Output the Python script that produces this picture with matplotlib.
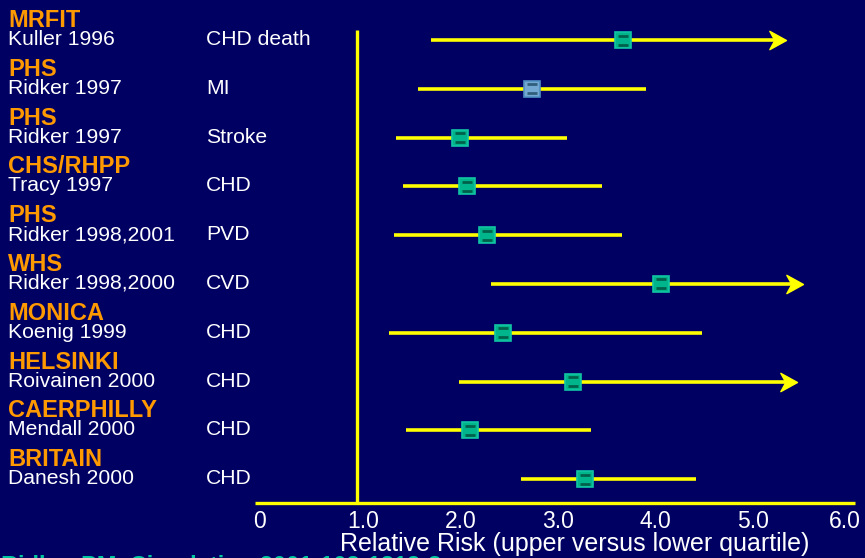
import numpy as np
import matplotlib
matplotlib.use('Agg')
import matplotlib.pyplot as plt
from matplotlib.path import Path

# datos
studies = ['MRFIT', 'PHS', 'PHS', 'CHS/RHPP', 'PHS', 'WHS', 'MONICA', 'HELSINKI', 'CAERPHILLY', 'BRITAIN']
authors = ['Kuller 1996', 'Ridker 1997', 'Ridker 1997', 'Tracy 1997', 'Ridker 1998,2001',
           'Ridker 1998,2000', 'Koenig 1999', 'Roivainen 2000', 'Mendall 2000', 'Danesh 2000']
endpoints = ['CHD death', 'MI', 'Stroke', 'CHD', 'PVD', 'CVD', 'CHD', 'CHD', 'CHD', 'CHD']
rr = [3.73, 2.79, 2.06, 2.13, 2.33, 4.12, 2.50, 3.22, 2.16, 3.34]
lower = [1.76, 1.63, 1.40, 1.47, 1.38, 2.37, 1.33, 2.05, 1.50, 2.68]
upper = [5.40, 3.96, 3.15, 3.51, 3.72, 5.57, 4.54, 5.51, 3.40, 4.48]
arrow = [True, False, False, False, False, True, False, True, False, False]
ticks = [0, 1, 2, 3, 4, 5, 6]
tick_labels = ['0', '1.0', '2.0', '3.0', '4.0', '5.0', '6.0']

bg = '#000062'
yellow = '#ffff00'
orange = '#ff9900'
teal = '#00b48c'

plt.rcParams['font.family'] = ['Liberation Sans', 'DejaVu Sans']

fig = plt.figure(figsize=(8.65, 5.58), dpi=100, facecolor=bg)
ax = fig.add_axes([0, 0, 1, 1])
ax.set_facecolor(bg)
ax.set_xlim(-2.6615, 6.2103)
ax.set_ylim(10.615, -0.8197)
ax.axis('off')

# punta de flecha tipo "stealth"
head = Path([(0, 0), (-1, 0.55), (-0.7, 0), (-1, -0.55), (0, 0)],
            [Path.MOVETO, Path.LINETO, Path.LINETO, Path.LINETO, Path.CLOSEPOLY])

px_row = 1 / 48.8  # un pixel en unidades de fila
for i in range(len(studies)):
    if arrow[i]:
        ax.plot([lower[i], upper[i] - 0.1], [i, i], color=yellow, lw=2.6, solid_capstyle='butt', zorder=2)
        ax.plot(upper[i], i, marker=head, ms=24, color=yellow, mec=yellow, zorder=3)
    else:
        ax.plot([lower[i], upper[i]], [i, i], color=yellow, lw=2.6, solid_capstyle='butt', zorder=2)
    fc = '#72a8d2' if i == 1 else teal
    ec = '#4f8fc0' if i == 1 else '#12c4a4'
    ax.plot(rr[i], i, marker='s', ms=11, mfc=fc, mec=ec, mew=1.2, zorder=4)
    dark = '#2f5f7a' if i == 1 else '#00604c'
    ax.plot([rr[i], rr[i]], [i - 4.5 * px_row, i + 4.5 * px_row], ls='none', marker='_',
            ms=7.5, mew=2, color=dark, zorder=5)

    ax.text(-2.58, i - 13 * px_row, studies[i], color=orange, fontsize=17,
            fontweight='bold', va='baseline', ha='left')
    ax.text(-2.58, i + 5 * px_row, authors[i], color='white', fontsize=15.2,
            va='baseline', ha='left')
    ax.text(-0.55, i + 5 * px_row, endpoints[i], color='white', fontsize=15.2,
            va='baseline', ha='left')

# ejes
ax.plot([-0.046, 6.108], [9.488, 9.488], color=yellow, lw=2.4, solid_capstyle='butt', zorder=1)
ax.plot([1, 1], [-0.2, 9.488], color=yellow, lw=2.4, solid_capstyle='butt', zorder=1)

for t, lab in zip(ticks, tick_labels):
    dx = 0.06 if 0 < t < 6 else 0
    ax.text(t + dx, 9.48 + 25.5 * px_row, lab, color='white', fontsize=16.5, ha='center', va='baseline')

ax.text(3.23, 9.48 + 48.5 * px_row, 'Relative Risk (upper versus lower quartile)',
        color='white', fontsize=18, ha='center', va='baseline', zorder=6)

# cita cortada en el borde inferior
ax.text(-2.655, 9.48 + 70 * px_row, 'Ridker PM, Circulation 2001;103:1813-8',
        color='#00c8a0', fontsize=17, fontweight='bold', ha='left', va='baseline')

fig.savefig('out.png', dpi=100, facecolor=bg)
